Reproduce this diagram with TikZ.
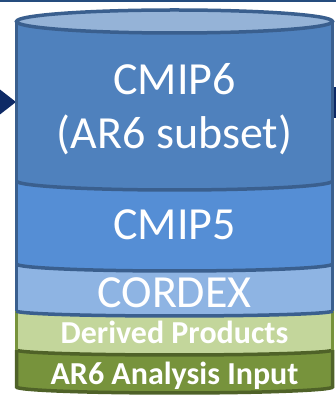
\documentclass[tikz,border=0pt]{standalone}
\usepackage{fontspec}
\setmainfont{Carlito}
\usepackage{xcolor}
\definecolor{capfill}{HTML}{95B3D7}
\definecolor{sixfill}{HTML}{4F81BD}
\definecolor{fivefill}{HTML}{558ED5}
\definecolor{cordfill}{HTML}{8EB4E3}
\definecolor{derfill}{HTML}{C3D69B}
\definecolor{arfill}{HTML}{77933C}
\definecolor{blueline}{HTML}{3A5F8E}
\definecolor{greenline}{HTML}{77933C}
\definecolor{darkgreen}{HTML}{4F6228}
\definecolor{navy}{HTML}{0E2A66}
\definecolor{framebar}{HTML}{254C7E}

\begin{document}
\begin{tikzpicture}[x=1pt,y=1pt,
  big/.style={text=white,inner sep=0pt,anchor=base,font=\fontsize{46}{55}\selectfont},
  small/.style={text=white,inner sep=0pt,anchor=base,font=\fontsize{32}{38}\selectfont\bfseries}]
\useasboundingbox (0,0) rectangle (336,396);
% pieces of the surrounding figure
\fill[framebar] (0,393.5) rectangle (336,397);
\fill[navy] (-2,308) -- (16,294) -- (-2,280) -- cycle;
\fill[navy] (333,309) rectangle (337,278);
% layers, top/ry/bottom/ry/colour
\foreach \t/\rt/\b/\rb/\c in {374.5/11.5/215/9/sixfill, 215/9/132/7/fivefill,
  132/7/85/5/cordfill, 85/5/46/5/derfill, 46/5/9/6/arfill}{
\fill[\c] (16.5,\t) -- (16.5,\b) arc[start angle=180,end angle=360,x radius=158pt,y radius=\rb pt]
  -- (332.5,\t) arc[start angle=0,end angle=-180,x radius=158pt,y radius=\rt pt] -- cycle;
}
% outlines
\draw[darkgreen,line width=3.5pt] (16.5,46) -- (16.5,9) arc[start angle=180,end angle=360,x radius=158pt,y radius=6pt] -- (332.5,46);
\draw[darkgreen,line width=3.5pt] (16.5,46) arc[start angle=180,end angle=360,x radius=158pt,y radius=5pt];
\draw[greenline,line width=3.5pt] (16.5,85) -- (16.5,46) (332.5,85) -- (332.5,46);
\draw[blueline,line width=3.5pt] (16.5,374.5) -- (16.5,85) (332.5,374.5) -- (332.5,85);
\foreach \b/\rb in {215/9, 132/7, 85/5}{
\draw[blueline,line width=3.5pt] (16.5,\b) arc[start angle=180,end angle=360,x radius=158pt,y radius=\rb pt];
}
\draw[blueline,fill=capfill,line width=3.5pt] (174.5,374.5) ellipse[x radius=158pt,y radius=11.5pt];
% labels
\node[big] (cmip6) at (174.5,301) {CMIP6};
\node[big] (cmip6sub) at (174.5,247) {(AR6 subset)};
\node[big] (cmip5) at (174.5,156) {CMIP5};
\node[big] (cordex) at (174.5,88) {CORDEX};
\node[small] (derived) at (174.5,52) {Derived Products};
\node[small] (ar6input) at (174.5,11) {AR6 Analysis Input};
\end{tikzpicture}
\end{document}
